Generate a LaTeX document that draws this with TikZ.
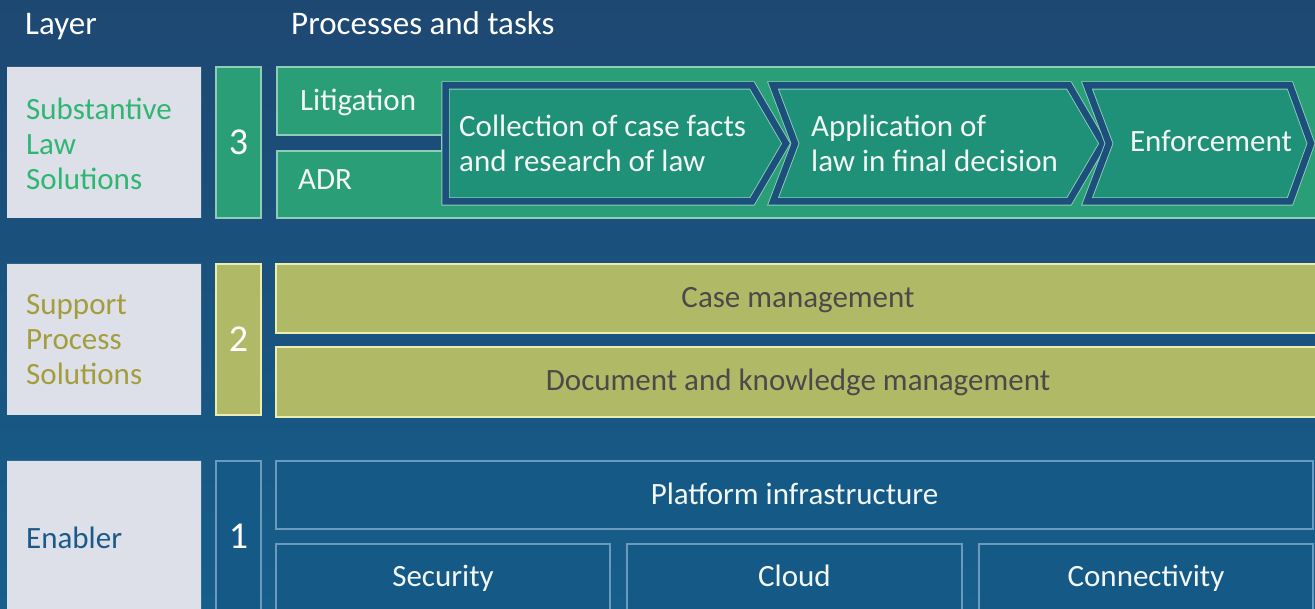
\documentclass[tikz,border=0pt]{standalone}
\usepackage{fontspec}
\setmainfont{Carlito}
\definecolor{bgtop}{HTML}{1D4872}
\definecolor{bgbot}{HTML}{165E8B}
\definecolor{labelgray}{HTML}{DDE0E9}
\definecolor{lawgreen}{HTML}{2A9E76}
\definecolor{chevteal}{HTML}{1F9179}
\definecolor{chevband}{HTML}{1D4F7D}
\definecolor{greenline}{HTML}{8FCDB6}
\definecolor{lawtext}{HTML}{30B673}
\definecolor{olive}{HTML}{B0BA66}
\definecolor{oliveline}{HTML}{EDEDB0}
\definecolor{olivetext}{HTML}{A49D3D}
\definecolor{greytext}{HTML}{4A4A4A}
\definecolor{baseblue}{HTML}{155A86}
\definecolor{blueline}{HTML}{6C9ABD}
\definecolor{enablertext}{HTML}{1B5A88}
\definecolor{lighttext}{HTML}{F2F6F4}
\tikzset{
  head/.style={font=\fontsize{33}{38}\selectfont, text=white, inner sep=0pt, anchor=base west},
  body/.style={font=\fontsize{31}{35}\selectfont, text=lighttext, inner sep=0pt},
  cell/.style={body, text height=22pt, text depth=4pt},
  label/.style={font=\fontsize{31}{35}\selectfont, inner sep=0pt, anchor=west, align=left},
  digit/.style={font=\fontsize{38}{40}\selectfont, text=white, inner sep=0pt},
  chevron/.style={fill=chevteal, draw=greenline, line width=0.9pt, double=chevband,
                  double distance=6.5pt, line join=miter}
}
\begin{document}
\begin{tikzpicture}[x=1pt, y=-1pt]
      \useasboundingbox (0, 0) rectangle (1315, 609);
      \clip (0, 0) rectangle (1315, 609);
      \shade [top color=bgtop, bottom color=bgbot] (0, 0) rectangle (1315, 609);
      \node [head] (layer) at (25, 35) {Layer};
      \node [head] (procs) at (291, 35) {Processes and tasks};
      \fill [labelgray] (7, 67) rectangle (201, 218)
                        (7, 264) rectangle (201, 415)
                        (7, 461) rectangle (201, 611);
      \node [label, text=lawtext] (subst) at (26, 144) {Substantive\\Law\\Solutions};
      \node [label, text=olivetext] (suppt) at (26, 340) {Support\\Process\\Solutions};
      \node [label, text=enablertext] (enabl) at (26, 538) {Enabler};
      \draw [fill=lawgreen, draw=greenline, line width=1.2pt]
            (216, 67) rectangle (261, 218) node (three) [digit, pos=.5] {3};
      \draw [fill=olive, draw=oliveline, line width=1.2pt]
            (216, 264) rectangle (261, 415) node (two) [digit, pos=.5] {2};
      \draw [fill=baseblue, draw=blueline, line width=1.2pt]
            (216, 461) rectangle (261, 611) node (one) [digit, pos=.5] {1};
      \draw [fill=lawgreen, draw=greenline, line width=1.2pt]
            (277, 67) -- (1320, 67) -- (1320, 218) -- (277, 218) -- (277, 151)
            -- (442, 151) -- (442, 135) -- (277, 135) -- cycle;
      \node [cell, anchor=west] (litig) at (300, 102) {Litigation};
      \node [cell, anchor=west] (adr) at (298, 181) {ADR};
      \draw [chevron] (445.5, 85.5) -- (752, 85.5) -- (786, 143.5) -- (752, 201.5)
                      -- (445.5, 201.5) -- cycle;
      \draw [chevron] (773, 85.5) -- (1069, 85.5) -- (1103, 143.5) -- (1069, 201.5)
                      -- (773, 201.5) -- (795, 143.5) -- cycle;
      \draw [chevron] (1087, 85.5) -- (1290, 85.5) -- (1311, 143.5) -- (1290, 201.5)
                      -- (1087, 201.5) -- (1109, 143.5) -- cycle;
      \node [body, anchor=west, align=left] (collect) at (459, 143) {Collection of case facts\\and research of law};
      \node [body, anchor=west, align=left] (apply) at (811, 143) {Application of\\law in final decision};
      \node [cell] (enforce) at (1211, 143) {Enforcement};
      \draw [fill=olive, draw=oliveline, line width=1.2pt]
            (276, 264) rectangle (1320, 333) node (casemg) [cell, text=greytext, pos=.5] {Case management}
            (276, 347) rectangle (1320, 417) node (docmg) [cell, text=greytext, pos=.5] {Document and knowledge management};
      \draw [fill=baseblue, draw=blueline, line width=1.2pt]
            (276, 461) rectangle (1313, 529) node (platf) [cell, pos=.5] {Platform infrastructure}
            (276, 544) rectangle (610, 611) node (secur) [cell, pos=.5] {Security}
            (627, 544) rectangle (962, 611) node (cloud) [cell, pos=.5] {Cloud}
            (979, 544) rectangle (1313, 611) node (conn) [cell, pos=.5] {Connectivity};
\end{tikzpicture}
\end{document}
